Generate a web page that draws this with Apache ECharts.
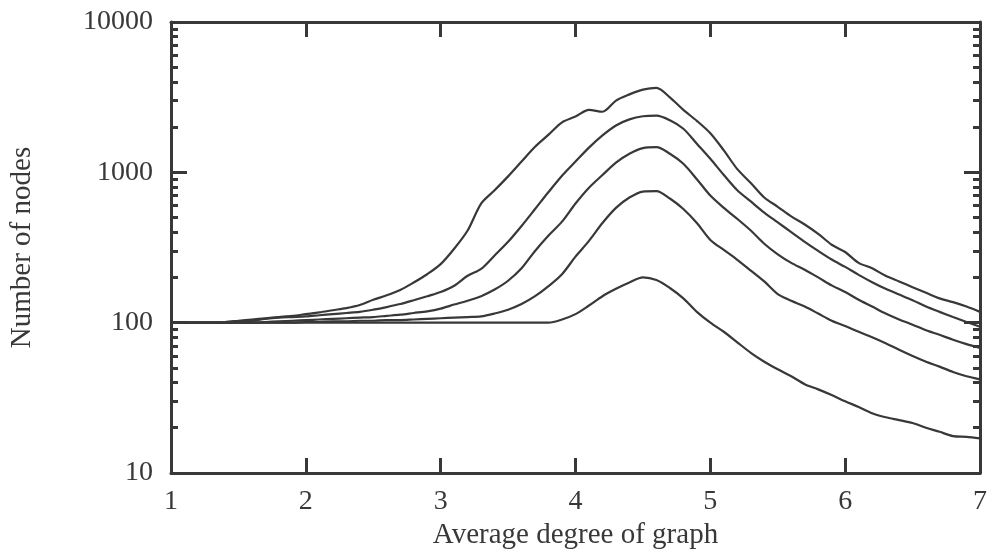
<!DOCTYPE html>
<html><head><meta charset="utf-8">
<script src="https://cdn.jsdelivr.net/npm/echarts@6/dist/echarts.min.js"></script>
<style>html,body{margin:0;padding:0;background:#fff}#c{width:991px;height:549px}</style>
</head><body><div id="c"></div>
<script>
const degree = [1.0,1.1,1.2,1.3,1.4,1.5,1.6,1.7,1.8,1.9,2.0,2.1,2.2,2.3,2.4,2.5,2.6,2.7,2.8,2.9,3.0,3.1,3.2,3.3,3.4,3.5,3.6,3.7,3.8,3.9,4.0,4.1,4.2,4.3,4.4,4.5,4.6,4.7,4.8,4.9,5.0,5.1,5.2,5.3,5.4,5.5,5.6,5.7,5.8,5.9,6.0,6.1,6.2,6.3,6.4,6.5,6.6,6.7,6.8,6.9,7.0];
const curveA = [100,100,100,100,101,103,105,107,109,111,114,117,121,125,131,142,152,165,185,210,245,310,410,620,760,940,1180,1480,1780,2150,2350,2600,2530,3000,3300,3550,3650,3150,2600,2200,1820,1400,1050,850,680,590,510,450,390,330,295,250,230,205,188,172,158,145,137,128,118];
const curveB = [100,100,100,100,100,101,103,106,108,109,110,112,114,116,118,122,127,133,141,150,160,176,205,228,280,345,440,570,740,950,1180,1460,1760,2050,2250,2360,2380,2220,1950,1550,1230,960,760,640,540,465,400,345,300,263,235,208,186,168,154,141,128,118,109,101,94];
const curveC = [100,100,100,100,100,100,100,101,102,103,104,105,106,107,108,109,111,113,116,119,124,132,140,150,166,190,230,300,380,470,620,790,960,1160,1330,1450,1470,1330,1140,900,700,580,490,410,335,285,250,225,200,177,160,142,128,115,105,97,89,83,77,72,68];
const curveD = [100,100,100,100,100,100,100,100,100,100,101,101,102,102,103,103,104,104,105,106,107,108,109,110,115,122,133,150,175,210,275,350,460,580,680,745,750,670,570,460,355,305,262,222,188,155,140,128,115,103,95,87,80,73,66,60,55,51,47,44,42];
const curveE = [100,100,100,100,100,100,100,100,100,100,100,100,100,100,100,100,100,100,100,100,100,100,100,100,100,100,100,100,100,105,114,130,150,168,185,200,192,170,145,118,100,87,74,63,55,49,44,39,36,33,30,27.5,25,23.5,22.5,21.5,20,18.8,17.6,17.4,17];
const xTicks = [1,2,3,4,5,6,7];
const yMajor = [10,100,1000,10000];
const yMinorTicks = [20,30,40,50,60,70,80,90,200,300,400,500,600,700,800,900,2000,3000,4000,5000,6000,7000,8000,9000];
const yMajorTicks = [100,1000];

const INK = '#383838';
const FONT = 'Liberation Serif';
const pair = arr => degree.map((d,i)=>[d,arr[i]]);

const chart = echarts.init(document.getElementById('c'));
const yBase = {type:'log', logBase:10, min:10, max:10000, splitLine:{show:false}};
chart.setOption({
  animation:false,
  backgroundColor:'#fff',
  grid:{left:171,right:11,top:22,bottom:76,containLabel:false,outerBoundsMode:'none'},
  xAxis:[
    {type:'value', min:1, max:7, interval:1, position:'bottom',
     name:'Average degree of graph', nameLocation:'middle', nameGap:46,
     nameTextStyle:{fontFamily:FONT,fontSize:29,color:INK},
     axisLine:{lineStyle:{color:INK,width:3}},
     axisTick:{inside:true,length:15,lineStyle:{color:INK,width:3}},
     axisLabel:{fontFamily:FONT,fontSize:28,color:INK,margin:15,
       customValues:xTicks, formatter:v=>String(v)},
     splitLine:{show:false}},
    {type:'value', min:1, max:7, interval:1, position:'top',
     axisLine:{lineStyle:{color:INK,width:3}},
     axisTick:{inside:true,length:15,lineStyle:{color:INK,width:3}},
     axisLabel:{show:false}, splitLine:{show:false}}
  ],
  yAxis:[
    Object.assign({}, yBase, {position:'left',
     name:'Number of nodes', nameLocation:'middle', nameGap:134,
     nameTextStyle:{fontFamily:FONT,fontSize:29,color:INK},
     axisLine:{lineStyle:{color:INK,width:3}},
     axisTick:{inside:true,length:7,lineStyle:{color:INK,width:3},customValues:yMinorTicks},
     axisLabel:{fontFamily:FONT,fontSize:28,color:INK,margin:18,customValues:yMajor,formatter:v=>String(v)}}),
    Object.assign({}, yBase, {position:'left',
     axisLine:{show:false},
     axisTick:{inside:true,length:16,lineStyle:{color:INK,width:3},customValues:yMajorTicks},
     axisLabel:{show:false}}),
    Object.assign({}, yBase, {position:'right',
     axisLine:{lineStyle:{color:INK,width:3}},
     axisTick:{inside:true,length:7,lineStyle:{color:INK,width:3},customValues:yMinorTicks},
     axisLabel:{show:false}}),
    Object.assign({}, yBase, {position:'right',
     axisLine:{show:false},
     axisTick:{inside:true,length:16,lineStyle:{color:INK,width:3},customValues:yMajorTicks},
     axisLabel:{show:false}})
  ],
  series:[curveA,curveB,curveC,curveD,curveE].map((c,i)=>({
    type:'line', name:'s'+i, data:pair(c), xAxisIndex:0, yAxisIndex:0,
    showSymbol:false, smooth:0.3, lineStyle:{color:INK,width:2.2}, z:3
  }))
});
</script></body></html>
